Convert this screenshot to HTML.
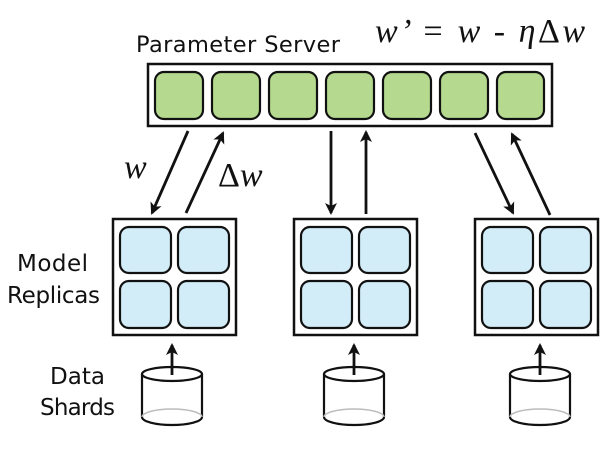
<!DOCTYPE html>
<html><head><meta charset="utf-8"><style>
html,body{margin:0;padding:0;background:#fff;width:615px;height:455px;overflow:hidden}
svg{display:block}
.t{font-family:"DejaVu Sans","Liberation Sans",sans-serif;fill:#111}
.m{font-family:"Liberation Serif",serif;font-style:italic;fill:#111}
.u{font-style:normal}
</style></head><body>
<svg width="615" height="455" viewBox="0 0 615 455" xmlns="http://www.w3.org/2000/svg">
<defs>
<marker id="a" markerWidth="13" markerHeight="12" refX="10" refY="6" orient="auto" markerUnits="userSpaceOnUse">
<path d="M0,0 L12,6 L0,12 L3,6 Z" fill="#111"/>
</marker>
</defs>
<text class="t" x="136" y="52" font-size="22.5" textLength="204">Parameter Server</text>
<text class="m" x="375" y="42" font-size="34" textLength="210">w’ = w - η<tspan class="u">Δ</tspan>w</text>
<rect x="148" y="64" width="404" height="62" fill="#fff" stroke="#111" stroke-width="2.5"/>
<g fill="#b5d98e" stroke="#111" stroke-width="2.2">
<rect x="155" y="72" width="48" height="47" rx="9"/>
<rect x="212" y="72" width="48" height="47" rx="9"/>
<rect x="269" y="72" width="48" height="47" rx="9"/>
<rect x="326" y="72" width="48" height="47" rx="9"/>
<rect x="383" y="72" width="48" height="47" rx="9"/>
<rect x="440" y="72" width="48" height="47" rx="9"/>
<rect x="497" y="72" width="47" height="47" rx="9"/>
</g>
<g stroke="#111" stroke-width="2.8" marker-end="url(#a)">
<line x1="188" y1="131" x2="152" y2="213"/>
<line x1="186" y1="213" x2="223" y2="133"/>
<line x1="331" y1="131" x2="331" y2="213"/>
<line x1="366" y1="214" x2="366" y2="132"/>
<line x1="475" y1="133" x2="513" y2="213"/>
<line x1="550" y1="215" x2="512" y2="134"/>
</g>
<text class="m" x="124" y="178" font-size="34">w</text>
<text class="m" x="218" y="186" font-size="34"><tspan class="u">Δ</tspan>w</text>
<text class="t" x="17" y="271" font-size="23" textLength="71">Model</text>
<text class="t" x="7" y="303" font-size="23" textLength="93">Replicas</text>
<text class="t" x="50" y="384" font-size="23" textLength="55">Data</text>
<text class="t" x="40" y="415" font-size="23" textLength="75">Shards</text>
<g id="rep">
<rect x="113" y="219" width="123" height="116" fill="#fff" stroke="#111" stroke-width="2.5"/>
<g fill="#d2ecf8" stroke="#111" stroke-width="2.2">
<rect x="120" y="227" width="51" height="46" rx="9"/>
<rect x="178" y="227" width="51" height="46" rx="9"/>
<rect x="120" y="281" width="51" height="47" rx="9"/>
<rect x="178" y="281" width="51" height="47" rx="9"/>
</g>
</g>
<use href="#rep" x="181"/>
<use href="#rep" x="362"/>
<g id="cyl">
<path d="M142,374 L142,417 A30,8 0 0 0 202,417 L202,374" fill="#fff" stroke="#111" stroke-width="2.2"/>
<path d="M142,417 A30,8 0 0 1 202,417" fill="none" stroke="#bbb" stroke-width="1.5"/>
<ellipse cx="172" cy="374" rx="30" ry="7" fill="#fff" stroke="#111" stroke-width="2.2"/>
<line x1="172" y1="375" x2="172" y2="345" stroke="#111" stroke-width="2.8" marker-end="url(#a)"/>
</g>
<use href="#cyl" x="182"/>
<use href="#cyl" x="368"/>
</svg>
</body></html>
